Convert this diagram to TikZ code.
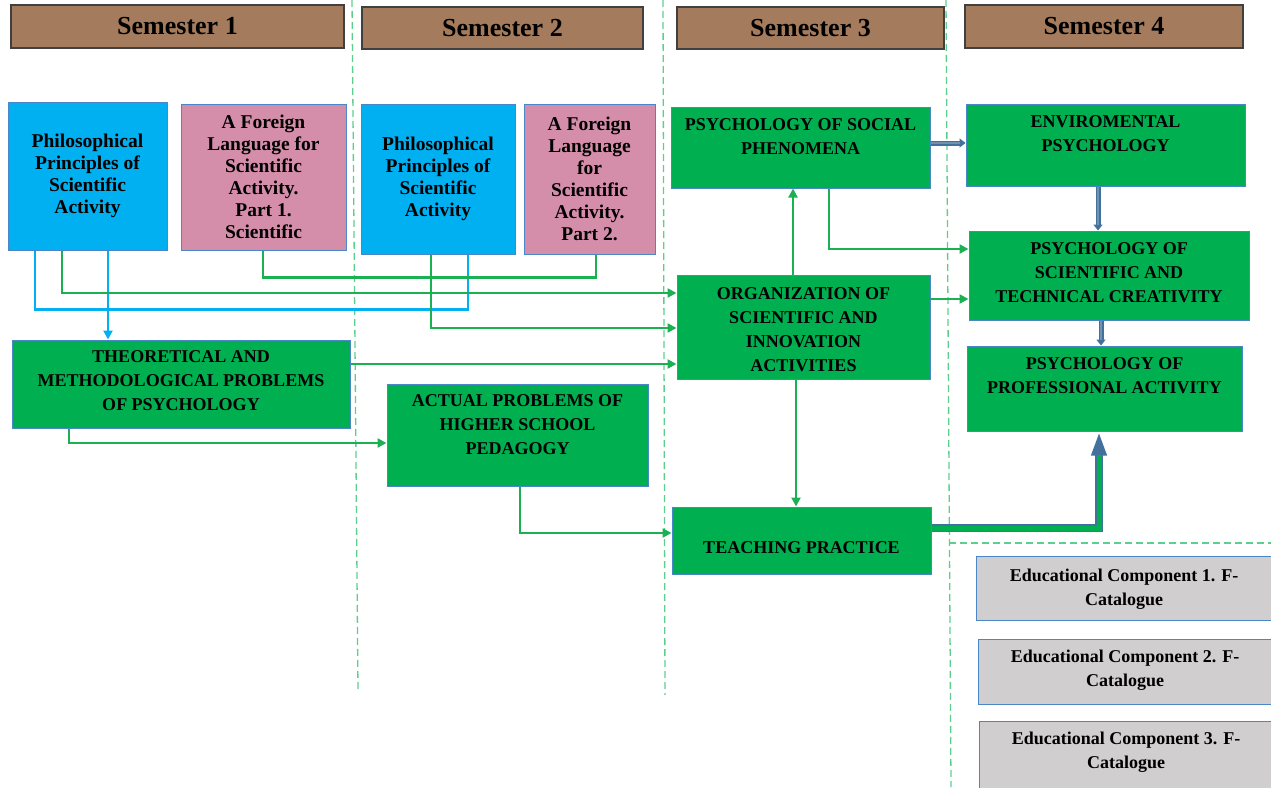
\documentclass[tikz,border=0pt]{standalone}
\usepackage{fontspec}
\setmainfont{Liberation Serif}
\usetikzlibrary{fit,arrows.meta}
\definecolor{hdr}{HTML}{A47C5D}
\definecolor{skyb}{HTML}{00B0F0}
\definecolor{pinkb}{HTML}{D58EAA}
\definecolor{greenb}{HTML}{00B050}
\definecolor{grayb}{HTML}{D0CECE}
\definecolor{edge}{HTML}{4A86C8}
\definecolor{dashc}{HTML}{5CCF8C}
\definecolor{steel}{HTML}{41719C}
\definecolor{steelin}{HTML}{6F93AE}
\definecolor{garr}{HTML}{1BB052}
\begin{document}
\begin{tikzpicture}[x=1pt,y=-1pt,
 box/.style={draw=edge, line width=1pt, inner sep=0pt},
 hdrbox/.style={draw=black!75, fill=hdr, line width=1.1pt, inner sep=0pt, font=\bfseries\fontsize{26}{28}\selectfont},
 bluebox/.style={box, fill=skyb, align=center, font=\bfseries\fontsize{19.5}{22}\selectfont},
 pinkbox/.style={box, fill=pinkb, align=center, font=\bfseries\fontsize{19.5}{22}\selectfont},
 greenbox/.style={box, fill=greenb},
 graybox/.style={box, fill=grayb},
 gtxt/.style={align=center, inner sep=0pt, font=\bfseries\fontsize{18}{24}\selectfont},
 conn/.style={draw=garr, line width=2.4pt},
 garrow/.style={conn, -{Triangle[length=9pt,width=9pt]}},
 bconn/.style={draw=skyb, line width=2.4pt},
 barrow/.style={bconn, -{Triangle[length=9pt,width=9pt]}},
 steelout/.style={draw=steel, line width=5pt, -{Triangle[length=6pt,width=9pt]}},
 steelinner/.style={draw=steelin, line width=2.4pt, shorten >=6pt},
 divider/.style={draw=dashc, line width=1.3pt, dash pattern=on 7pt off 4pt},
]
\useasboundingbox (0,0) rectangle (1271,787);

% dividers
\draw[divider] (352,0) -- (358,692);
\draw[divider] (663,0) -- (665,695);
\draw[divider] (946,0) -- (951,787);
\draw[divider] (949,543) -- (1271,543);

% headers
\node[hdrbox, minimum width=333pt, minimum height=43pt] (sem1) at (177.5,26.5) {Semester 1};
\node[hdrbox, minimum width=281pt, minimum height=42pt] (sem2) at (502.5,28) {Semester 2};
\node[hdrbox, minimum width=267pt, minimum height=42pt] (sem3) at (810.5,28) {Semester 3};
\node[hdrbox, minimum width=278pt, minimum height=43pt] (sem4) at (1104,26.5) {Semester 4};

% semester 1 / 2 top boxes
\node[bluebox, minimum width=159pt, minimum height=148pt] (phil1) at (87.5,176) {Philosophical\\Principles of\\Scientific\\Activity};
\node[pinkbox, minimum width=165pt, minimum height=146pt] (fl1) at (263.5,177) {A Foreign\\Language for\\Scientific\\Activity.\\Part 1.\\Scientific};
\node[bluebox, minimum width=154pt, minimum height=150pt] (phil2) at (438,179) {Philosophical\\Principles of\\Scientific\\Activity};
\node[pinkbox, minimum width=131pt, minimum height=150pt] (fl2) at (589.5,179) {A Foreign\\Language\\for\\Scientific\\Activity.\\Part 2.};

% green boxes
\node[greenbox, fit={(12,340) (350,428)}] (theor) {};
\node[gtxt] (theor-t) at (181,381) {THEORETICAL AND\\METHODOLOGICAL PROBLEMS\\OF PSYCHOLOGY};
\node[greenbox, fit={(387,384) (648,486)}] (actual) {};
\node[gtxt] (actual-t) at (517.5,425) {ACTUAL PROBLEMS OF\\HIGHER SCHOOL\\PEDAGOGY};
\node[greenbox, fit={(671,107) (930,188)}] (psysoc) {};
\node[gtxt] (psysoc-t) at (800.5,137) {PSYCHOLOGY OF SOCIAL\\PHENOMENA};
\node[greenbox, fit={(677,275) (930,379)}] (orgsci) {};
\node[gtxt] (orgsci-t) at (803.5,330) {ORGANIZATION OF\\SCIENTIFIC AND\\INNOVATION\\ACTIVITIES};
\node[greenbox, fit={(672,507) (931,574)}] (teach) {};
\node[gtxt] (teach-t) at (801.5,548) {TEACHING PRACTICE};
\node[greenbox, fit={(966,104) (1245,186)}] (envpsy) {};
\node[gtxt] (envpsy-t) at (1105.5,134) {ENVIROMENTAL\\PSYCHOLOGY};
\node[greenbox, fit={(969,231) (1249,320)}] (psysci) {};
\node[gtxt] (psysci-t) at (1109,273) {PSYCHOLOGY OF\\SCIENTIFIC AND\\TECHNICAL CREATIVITY};
\node[greenbox, fit={(967,346) (1242,431)}] (psyprof) {};
\node[gtxt] (psyprof-t) at (1104.5,376) {PSYCHOLOGY OF\\PROFESSIONAL ACTIVITY};

% gray boxes
\node[graybox, fit={(976,556) (1280,620)}] (edu1) {};
\node[gtxt] (edu1-t) at (1124,589) {Educational Component 1. F-\\Catalogue};
\node[graybox, fit={(978,639) (1280,704)}] (edu2) {};
\node[gtxt] (edu2-t) at (1125,670) {Educational Component 2. F-\\Catalogue};
\node[graybox, fit={(979,721) (1280,795)}] (edu3) {};
\node[gtxt] (edu3-t) at (1126,752) {Educational Component 3. F-\\Catalogue};

% blue connectors
\draw[bconn] (phil1.south -| 35,0) -- ++(0,59) -| (phil2.south -| 468,0);
\draw[barrow] (phil1.south -| 108,0) -- (theor.north -| 108,0);

% green connectors
\draw[conn] (fl1.south -| 263,0) -- ++(0,27) -| (fl2.south -| 596,0);
\draw[garrow] (phil1.south -| 62,0) |- (orgsci.west |- 0,293);
\draw[garrow] (phil2.south -| 431,0) |- (orgsci.west |- 0,328);
\draw[garrow] (theor.east |- 0,364) -- (orgsci.west |- 0,364);
\draw[garrow] (theor.south -| 69,0) |- (actual.west |- 0,443);
\draw[garrow] (actual.south -| 520,0) |- (teach.west |- 0,533);
\draw[garrow] (orgsci.north -| 793,0) -- (psysoc.south -| 793,0);
\draw[garrow] (psysoc.south -| 829,0) |- (psysci.west |- 0,249);
\draw[garrow] (orgsci.east |- 0,299) -- (psysci.west |- 0,299);
\draw[garrow] (orgsci.south -| 796,0) -- (teach.north -| 796,0);

% steel connectors
\draw[steelout] (psysoc.east |- 0,143) -- (envpsy.west |- 0,143);
\draw[steelinner] (psysoc.east |- 0,143) -- (envpsy.west |- 0,143);
\draw[steelout] (envpsy.south -| 1098,0) -- (psysci.north -| 1098,0);
\draw[steelinner] (envpsy.south -| 1098,0) -- (psysci.north -| 1098,0);
\draw[steelout] (psysci.south -| 1101,0) -- (psyprof.north -| 1101,0);
\draw[steelinner] (psysci.south -| 1101,0) -- (psyprof.north -| 1101,0);

% big arrow
\draw[draw=steel, line width=8pt, line join=miter, -{Triangle[length=24pt,width=14pt]}] (teach.east |- 0,528) -| (psyprof.south -| 1099,0);
\draw[draw=greenb, line width=5pt, line join=miter, shorten >=23pt] (teach.east |- 0,528) -| (psyprof.south -| 1099,0);
\end{tikzpicture}
\end{document}
